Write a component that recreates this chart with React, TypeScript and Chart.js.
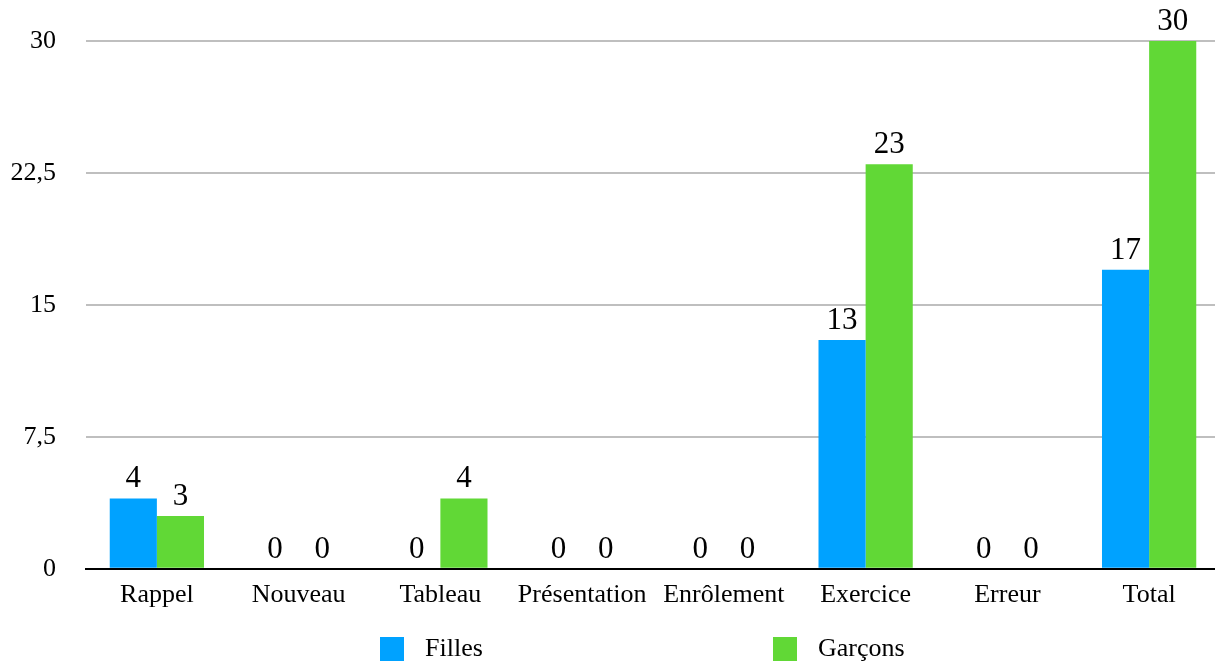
import React, { useEffect, useRef } from "react";
import { Chart, registerables } from "chart.js";

Chart.register(...registerables);

const categories = ["Rappel", "Nouveau", "Tableau", "Présentation", "Enrôlement", "Exercice", "Erreur", "Total"];
const filles = [4, 0, 0, 0, 0, 13, 0, 17];
const garcons = [3, 0, 4, 0, 0, 23, 0, 30];
const seriesNames = ["Filles", "Garçons"];
const seriesColors = ["#00A2FF", "#61D836"];
const yTicks = [0, 7.5, 15, 22.5, 30];

const FONT = "'Liberation Serif', 'Times New Roman', serif";

const valueLabels = {
  id: "valueLabels",
  afterDatasetsDraw(chart: any) {
    const ctx = chart.ctx;
    ctx.save();
    ctx.font = `31px ${FONT}`;
    ctx.fillStyle = "#000";
    ctx.textAlign = "center";
    ctx.textBaseline = "alphabetic";
    chart.data.datasets.forEach((ds: any, i: number) => {
      const meta = chart.getDatasetMeta(i);
      meta.data.forEach((bar: any, j: number) => {
        ctx.fillText(String(ds.data[j]), bar.x, bar.y - 11);
      });
    });
    ctx.restore();
  },
};

const bottomLegend = {
  id: "bottomLegend",
  afterDraw(chart: any) {
    const ctx = chart.ctx;
    const y = chart.height - 17;
    const xs = [380, 773];
    ctx.save();
    ctx.font = `26px ${FONT}`;
    ctx.textBaseline = "middle";
    ctx.textAlign = "left";
    seriesNames.forEach((name, i) => {
      const x = xs[i];
      ctx.fillStyle = seriesColors[i];
      ctx.fillRect(x, y - 12, 24, 24);
      ctx.fillStyle = "#000";
      ctx.fillText(name, x + 45, y);
    });
    ctx.restore();
  },
};

export default function App() {
  const ref = useRef<HTMLCanvasElement | null>(null);
  useEffect(() => {
    if (!ref.current) return;
    const chart = new Chart(ref.current, {
      type: "bar",
      data: {
        labels: categories,
        datasets: [
          { label: seriesNames[0], data: filles, backgroundColor: seriesColors[0], borderWidth: 0, barPercentage: 1, categoryPercentage: 0.665 },
          { label: seriesNames[1], data: garcons, backgroundColor: seriesColors[1], borderWidth: 0, barPercentage: 1, categoryPercentage: 0.665 },
        ],
      },
      options: {
        animation: false,
        responsive: false,
        maintainAspectRatio: false,
        layout: { padding: { top: 41, right: 0, bottom: 44, left: 0 } },
        plugins: { legend: { display: false }, tooltip: { enabled: false } },
        scales: {
          x: {
            grid: { display: false, drawTicks: false },
            border: { display: true, color: "#000", width: 2 },
            ticks: { color: "#000", font: { family: FONT, size: 26 }, padding: 11, maxRotation: 0, autoSkip: false },
          },
          y: {
            min: 0,
            max: 30,
            afterBuildTicks(scale: any) {
              scale.ticks = yTicks.map((v) => ({ value: v }));
            },
            afterFit(scale: any) {
              scale.width = 86;
              scale.paddingTop = 0;
              scale.paddingBottom = 0;
            },
            grid: { color: "#BFBFBF", lineWidth: 2, drawTicks: false },
            border: { display: false },
            ticks: {
              color: "#000",
              font: { family: FONT, size: 26 },
              padding: 30,
              callback: (v: any) => String(v).replace(".", ","),
            },
          },
        },
      },
      plugins: [valueLabels, bottomLegend],
    });
    return () => chart.destroy();
  }, []);
  return (
    <div style={{ position: "fixed", left: 0, top: 0, width: 1215, height: 666, background: "#fff", overflow: "hidden" }}>
      <canvas ref={ref} width={1220} height={666} style={{ width: 1220, height: 666, display: "block" }} />
    </div>
  );
}
